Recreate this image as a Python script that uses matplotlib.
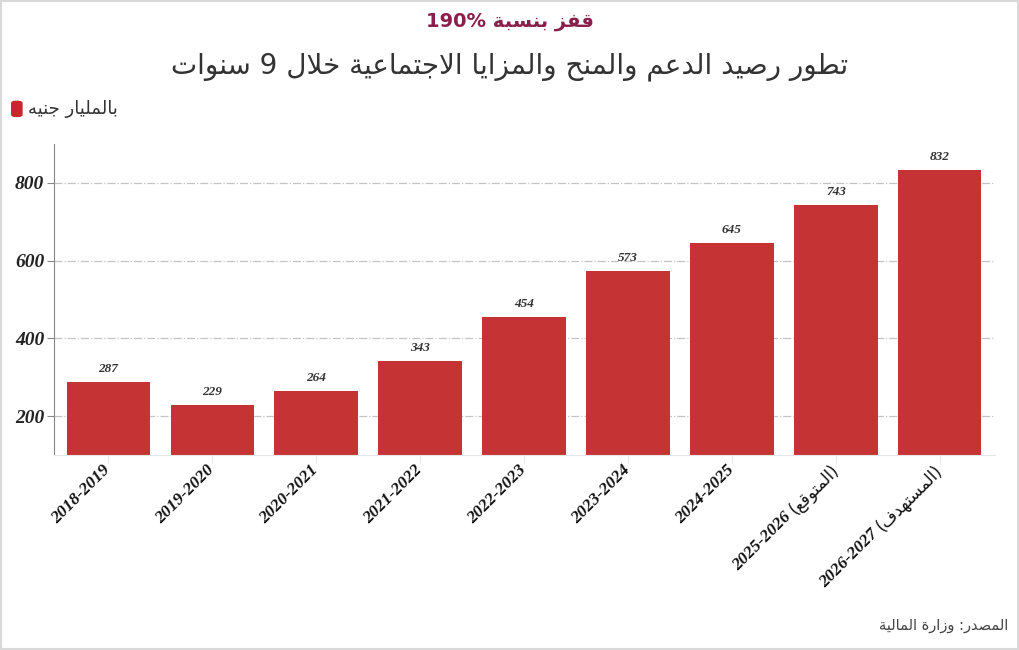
import matplotlib
matplotlib.use('Agg')
import matplotlib.pyplot as plt
from matplotlib.patches import Rectangle, FancyBboxPatch

# data
years = ['2018-2019', '2019-2020', '2020-2021', '2021-2022', '2022-2023',
         '2023-2024', '2024-2025', '2025-2026', '2026-2027']
year_notes = ['', '', '', '', '', '', '', 'المتوقع', 'المستهدف']
values = [287, 229, 264, 343, 454, 573, 645, 743, 832]
y_ticks = [200, 400, 600, 800]

subtitle = 'قفز بنسبة 190%'
title = 'تطور رصيد الدعم والمنح والمزايا الاجتماعية خلال 9 سنوات'
unit_label = 'بالمليار جنيه'
source = 'المصدر: وزارة المالية'

BAR_COLOR = '#c63335'

# minimal arabic shaping: (isolated, final, initial, medial), right-joining letters only have 2
FORMS = {
    'ا': (0xFE8D, 0xFE8E), 'ب': (0xFE8F, 0xFE90, 0xFE91, 0xFE92),
    'ة': (0xFE93, 0xFE94), 'ت': (0xFE95, 0xFE96, 0xFE97, 0xFE98),
    'ج': (0xFE9D, 0xFE9E, 0xFE9F, 0xFEA0), 'ح': (0xFEA1, 0xFEA2, 0xFEA3, 0xFEA4),
    'خ': (0xFEA5, 0xFEA6, 0xFEA7, 0xFEA8), 'د': (0xFEA9, 0xFEAA),
    'ر': (0xFEAD, 0xFEAE), 'ز': (0xFEAF, 0xFEB0),
    'س': (0xFEB1, 0xFEB2, 0xFEB3, 0xFEB4), 'ص': (0xFEB9, 0xFEBA, 0xFEBB, 0xFEBC),
    'ط': (0xFEC1, 0xFEC2, 0xFEC3, 0xFEC4), 'ع': (0xFEC9, 0xFECA, 0xFECB, 0xFECC),
    'ف': (0xFED1, 0xFED2, 0xFED3, 0xFED4), 'ق': (0xFED5, 0xFED6, 0xFED7, 0xFED8),
    'ل': (0xFEDD, 0xFEDE, 0xFEDF, 0xFEE0), 'م': (0xFEE1, 0xFEE2, 0xFEE3, 0xFEE4),
    'ن': (0xFEE5, 0xFEE6, 0xFEE7, 0xFEE8), 'ه': (0xFEE9, 0xFEEA, 0xFEEB, 0xFEEC),
    'و': (0xFEED, 0xFEEE), 'ي': (0xFEF1, 0xFEF2, 0xFEF3, 0xFEF4),
}


def shape_word(word):
    out = []
    i = 0
    while i < len(word):
        ch = word[i]
        prev = word[i - 1] if i > 0 else ''
        joins_prev = len(FORMS.get(prev, ())) == 4
        if ch == 'ل' and i + 1 < len(word) and word[i + 1] == 'ا':
            out.append(chr(0xFEFC if joins_prev else 0xFEFB))
            i += 2
            continue
        if ch not in FORMS:
            out.append(ch)
            i += 1
            continue
        f = FORMS[ch]
        nxt = word[i + 1] if i + 1 < len(word) else ''
        joins_next = len(f) == 4 and nxt in FORMS
        if joins_prev and joins_next:
            out.append(chr(f[3]))
        elif joins_next:
            out.append(chr(f[2]))
        elif joins_prev:
            out.append(chr(f[1]))
        else:
            out.append(chr(f[0]))
        i += 1
    return ''.join(out)


def rtl(text):
    toks = []
    for t in text.split(' '):
        if any(c in FORMS for c in t):
            toks.append(shape_word(t)[::-1])
        else:
            toks.append(t)
    return ' '.join(toks[::-1])


ARABIC = ['DejaVu Sans']
NUM_FONT = dict(family='Liberation Serif', weight='bold', style='italic')

fig = plt.figure(figsize=(10.2, 6.5), dpi=100)
ax = fig.add_axes([0.053, 0.30, 0.9225, 0.4785])

x = list(range(len(values)))
ax.bar(x, values, width=0.8, color=BAR_COLOR, zorder=2)
for i, v in enumerate(values):
    ax.text(i, v + 18, str(v), ha='center', va='bottom', fontsize=9.5,
            color='#333333', **NUM_FONT)

ax.set_ylim(100, 900)
ax.set_xlim(-0.52, 8.53)
ax.set_yticks(y_ticks)
ax.set_yticklabels([str(t) for t in y_ticks], fontsize=14, color='#222222', **NUM_FONT)
ax.grid(axis='y', linestyle='-.', color='#c4c4c4', linewidth=0.9, zorder=0)

# the arabic note goes on the tick, the year is put in front of it
labels = [('(' + rtl(n) + ')') if n else yr for yr, n in zip(years, year_notes)]
ax.set_xticks(x)
ax.set_xticklabels(labels, rotation=45, ha='right', va='center', rotation_mode='anchor',
                   fontsize=12.5, color='#111111', **NUM_FONT)
ax.tick_params(axis='x', length=6, color='#e6e6e6', pad=3)
ax.tick_params(axis='y', length=5, color='#888888', pad=2)

for lbl, yr, n in zip(ax.get_xticklabels(), years, year_notes):
    if not n:
        continue
    lbl.set_fontfamily(ARABIC)
    lbl.set_fontstyle('normal')
    lbl.set_fontweight('normal')
    lbl.set_fontsize(12)
    ax.annotate(yr, xy=(0, 0), xycoords=lbl, xytext=(2.5, 2.5), textcoords='offset points',
                rotation=45, ha='right', va='center', rotation_mode='anchor',
                fontsize=12.5, color='#111111', annotation_clip=False, **NUM_FONT)

for s in ['top', 'right']:
    ax.spines[s].set_visible(False)
ax.spines['left'].set_color('#888888')
ax.spines['bottom'].set_color('#e6e6e6')

# header texts
fig.text(0.5, 0.967, rtl(subtitle), ha='center', va='center', fontsize=14,
         color='#8a1f4c', weight='bold', family=ARABIC)
fig.text(0.5, 0.898, rtl(title), ha='center', va='center', fontsize=20,
         color='#333333', family=ARABIC)
fig.text(0.027, 0.833, rtl(unit_label), ha='left', va='center', fontsize=13,
         color='#333333', family=ARABIC)
fig.patches.append(FancyBboxPatch((0.0125, 0.822), 0.008, 0.021, boxstyle='round,pad=0.001,rounding_size=0.003',
                                  transform=fig.transFigure, color='#c8262c'))
fig.text(0.988, 0.038, rtl(source), ha='right', va='center', fontsize=10.5,
         color='#444444', family=ARABIC)

fig.patches.append(Rectangle((0.001, 0.002), 0.997, 0.996, transform=fig.transFigure,
                             fill=False, ec='#d9d9d9', lw=1.5))

fig.savefig('out.png', dpi=100)
